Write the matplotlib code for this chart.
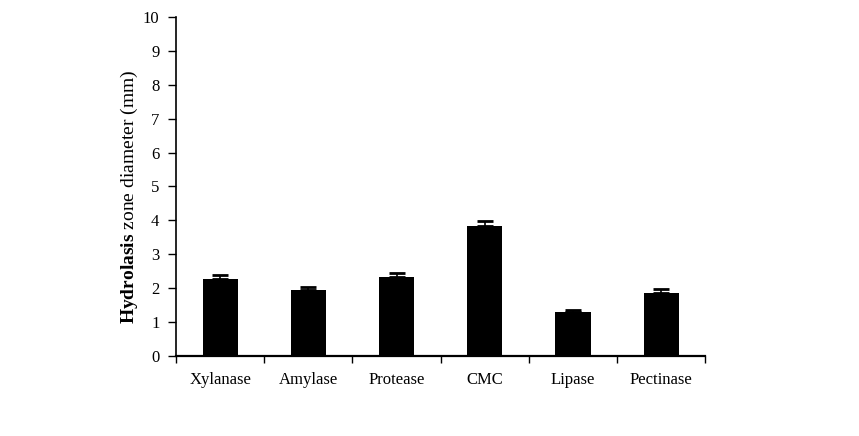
import matplotlib
matplotlib.use("Agg")
import matplotlib.pyplot as plt
import numpy as np

enzymes = ["Xylanase", "Amylase", "Protease", "CMC", "Lipase", "Pectinase"]
zone_mm = [2.28, 1.95, 2.34, 3.82, 1.30, 1.86]
zone_err = [0.10, 0.09, 0.11, 0.17, 0.06, 0.12]

plt.rcParams["font.family"] = "Liberation Serif"
plt.rcParams["mathtext.fontset"] = "custom"
plt.rcParams["mathtext.rm"] = "Liberation Serif"
plt.rcParams["mathtext.bf"] = "Liberation Serif:bold"

fig = plt.figure(figsize=(8.59, 4.36), dpi=100)
ax = fig.add_axes([0.205, 0.184, 0.616, 0.777])

x = np.arange(len(enzymes))
ax.bar(x, zone_mm, width=0.4, color="black")
ax.errorbar(x, zone_mm, yerr=[np.zeros(len(zone_err)), zone_err], fmt="none",
            ecolor="black", elinewidth=1.2, capsize=6, capthick=2)

ax.set_xlim(-0.5, len(enzymes) - 0.5)
ax.set_ylim(0, 10)
ax.set_yticks(range(0, 11))
ax.tick_params(axis="y", direction="out", length=6, width=1, labelsize=12, pad=6)

# category ticks sit on the boundaries, labels centred under bars
ax.set_xticks(np.arange(-0.5, len(enzymes)), minor=False)
ax.set_xticklabels([])
ax.set_xticks(x, minor=True)
ax.set_xticklabels(enzymes, minor=True, fontsize=12)
ax.tick_params(axis="x", which="major", direction="out", length=5, width=1)
ax.tick_params(axis="x", which="minor", length=0, pad=12)

for side in ["top", "right"]:
    ax.spines[side].set_visible(False)
ax.spines["left"].set_linewidth(1.2)
ax.spines["bottom"].set_linewidth(1.6)

ax.set_ylabel(r"$\mathbf{Hydrolasis}$ zone diameter (mm)", fontsize=14)
ax.yaxis.set_label_coords(-0.068, 0.47)

fig.savefig("out.png", dpi=100)
